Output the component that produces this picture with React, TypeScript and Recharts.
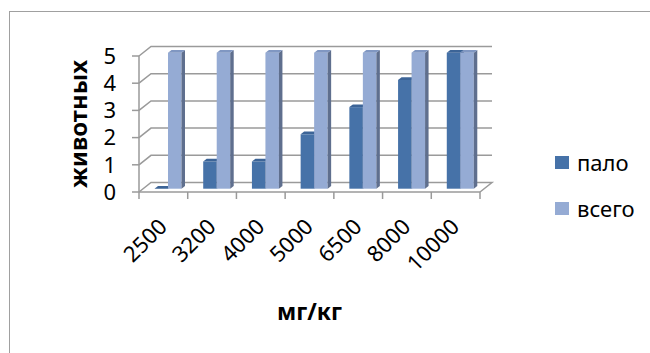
import { BarChart, Bar, XAxis, YAxis, CartesianGrid, Legend } from 'recharts';

// doses, mg/kg
const categories = ['2500', '3200', '4000', '5000', '6500', '8000', '10000'];
const paloValues = [0, 1, 1, 2, 3, 4, 5];
const vsegoValues = [5, 5, 5, 5, 5, 5, 5];
const yTicks = [0, 1, 2, 3, 4, 5];

const data = categories.map((c, i) => ({ dose: c, palo: paloValues[i], vsego: vsegoValues[i] }));

const W = 650;
const H = 353;
const PLOT_LEFT = 139;
const PLOT_RIGHT = 480;
const PLOT_TOP = 56;
const PLOT_BOTTOM = 192;
const Y_AXIS_W = 60;
const X_AXIS_H = 80;
const BAND = (PLOT_RIGHT - PLOT_LEFT) / categories.length;

// depth of the back wall and of the bars, pseudo 3D
const WALL = { dx: 12, dy: -9.5 };
const PLANE = { dx: 4.5, dy: -3.3 };
const DEPTH = { dx: 3.5, dy: -2.7 };

const FONT = '"Noto Sans", sans-serif';
const GRID = '#9a9a9a';

const COLORS = {
  palo: { front: '#4672a8', top: '#3c6497', side: '#2e4d76' },
  vsego: { front: '#95abd4', top: '#8097c2', side: '#5f6f8e' },
};

function Box3D(props: any) {
  const { x, y, width, height, front, top, side } = props;
  const x0 = x + PLANE.dx;
  const y0 = y + PLANE.dy;
  const h = Math.max(0, height);
  const { dx, dy } = DEPTH;
  return (
    <g>
      {h > 0 && <rect x={x0} y={y0} width={width} height={h} fill={front} />}
      {h > 0 && (
        <path
          d={`M${x0 + width},${y0} L${x0 + width + dx},${y0 + dy} L${x0 + width + dx},${y0 + h + dy} L${x0 + width},${y0 + h} Z`}
          fill={side}
        />
      )}
      <path
        d={`M${x0},${y0} L${x0 + dx},${y0 + dy} L${x0 + width + dx},${y0 + dy} L${x0 + width},${y0} Z`}
        fill={top}
      />
    </g>
  );
}

function gridLine(props: any) {
  const { x1, x2, y1 } = props;
  const isFloor = Math.abs(y1 - PLOT_BOTTOM) < 1;
  let d = `M${x1},${y1} L${x1 + WALL.dx},${y1 + WALL.dy} L${x2 + WALL.dx},${y1 + WALL.dy}`;
  if (isFloor) d += ` L${x2},${y1}`;
  return <path key={`g-${y1}`} d={d} fill="none" stroke={GRID} strokeWidth={1.5} />;
}

function XTick(props: any) {
  const { x, payload, index } = props;
  const tx = x + 5;
  const ty = PLOT_BOTTOM + 36;
  return (
    <g>
      <line x1={x - BAND / 2} x2={x - BAND / 2} y1={PLOT_BOTTOM} y2={PLOT_BOTTOM + 7} stroke={GRID} strokeWidth={1.5} />
      {index === categories.length - 1 && (
        <line x1={x + BAND / 2} x2={x + BAND / 2} y1={PLOT_BOTTOM} y2={PLOT_BOTTOM + 7} stroke={GRID} strokeWidth={1.5} />
      )}
      <text
        x={tx}
        y={ty}
        transform={`rotate(-45, ${tx}, ${ty})`}
        textAnchor="end"
        fontSize={22}
        fontFamily={FONT}
        fill="#000"
      >
        {payload.value}
      </text>
    </g>
  );
}

function LegendBox() {
  const items = [
    { label: 'пало', color: COLORS.palo.front },
    { label: 'всего', color: COLORS.vsego.front },
  ];
  return (
    <div style={{ fontFamily: FONT, fontSize: 22, color: '#000' }}>
      {items.map((it) => (
        <div key={it.label} style={{ display: 'flex', alignItems: 'center', height: 46 }}>
          <span style={{ width: 14, height: 13, background: it.color, marginRight: 8, display: 'inline-block' }} />
          <span>{it.label}</span>
        </div>
      ))}
    </div>
  );
}

export default function App() {
  return (
    <div style={{ position: 'relative', width: W, height: H, overflow: 'hidden', background: '#fff' }}>
      <style>{'body{margin:0}'}</style>
      <div
        style={{
          position: 'absolute',
          left: 9,
          top: 11,
          width: W + 40,
          height: H + 40,
          border: '1px solid #a0a0a0',
        }}
      />
      <BarChart
        width={W}
        height={H}
        data={data}
        barSize={13.5}
        barGap={0}
        margin={{
          top: PLOT_TOP,
          right: W - PLOT_RIGHT,
          bottom: H - PLOT_BOTTOM - X_AXIS_H,
          left: PLOT_LEFT - Y_AXIS_W,
        }}
      >
        <CartesianGrid vertical={false} horizontal={gridLine} />
        <XAxis
          dataKey="dose"
          height={X_AXIS_H}
          axisLine={{ stroke: GRID, strokeWidth: 1.5 }}
          tickLine={false}
          tick={<XTick />}
          interval={0}
          label={{
            content: () => (
              <text x={(PLOT_LEFT + PLOT_RIGHT) / 2} y={320} textAnchor="middle" fontSize={23} fontWeight="bold" fontFamily={FONT} fill="#000">
                мг/кг
              </text>
            ),
          }}
        />
        <YAxis
          width={Y_AXIS_W}
          domain={[0, 5]}
          ticks={yTicks}
          interval={0}
          axisLine={{ stroke: GRID, strokeWidth: 1.5 }}
          tickLine={{ stroke: GRID, strokeWidth: 1.5 }}
          tickSize={7}
          tickMargin={16}
          tick={{ fontSize: 22, fill: '#000', fontFamily: FONT }}
          label={{
            content: () => (
              <text
                x={77}
                y={124}
                transform="rotate(-90, 77, 124)"
                textAnchor="middle"
                dominantBaseline="central"
                fontSize={24}
                fontWeight="bold"
                fontFamily={FONT}
                fill="#000"
              >
                животных
              </text>
            ),
          }}
        />
        <Legend
          layout="vertical"
          align="center"
          verticalAlign="middle"
          wrapperStyle={{ left: 555, top: 139, width: 95 }}
          content={() => <LegendBox />}
        />
        <Bar
          dataKey="palo"
          name="пало"
          isAnimationActive={false}
          shape={(p: any) => <Box3D {...p} {...COLORS.palo} />}
        />
        <Bar
          dataKey="vsego"
          name="всего"
          isAnimationActive={false}
          shape={(p: any) => <Box3D {...p} {...COLORS.vsego} />}
        />
      </BarChart>
    </div>
  );
}
